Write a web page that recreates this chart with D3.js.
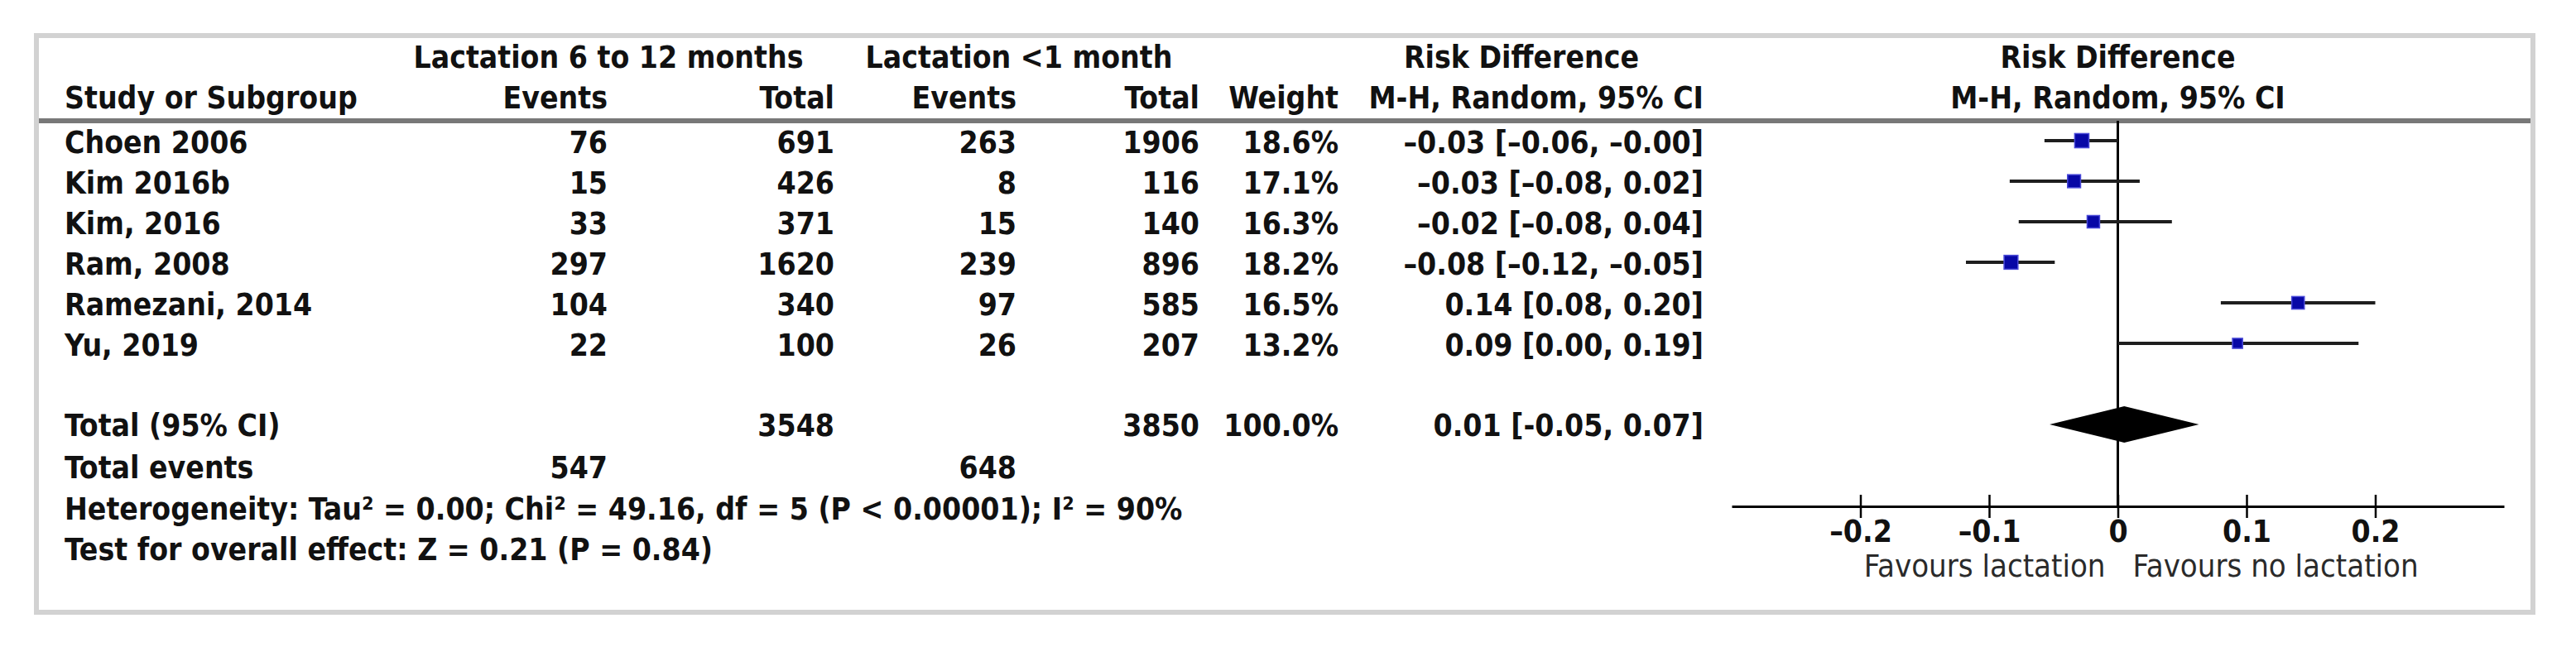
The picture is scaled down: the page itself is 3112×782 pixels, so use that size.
<!DOCTYPE html>
<html>
  <head>
    <meta charset="utf-8" />
    <script src="https://d3js.org/d3.v7.min.js"></script>
    <style>
      body {
        margin: 0px;
        background: #fff;
      }
      text {
        font-family: "DejaVu Sans Condensed", "DejaVu Sans", sans-serif;
        font-stretch: condensed;
        font-size: 37px;
        font-weight: bold;
        fill: #111;
      }
      .fav {
        font-weight: normal;
        font-size: 38px;
        fill: #2a2a2a;
      }
    </style>
  </head>
  <body>
    <svg width="3112" height="782"></svg>
    <script>
      // study rows
      const studies = ["Choen 2006", "Kim 2016b", "Kim, 2016", "Ram, 2008", "Ramezani, 2014", "Yu, 2019"];
      const events1 = [76, 15, 33, 297, 104, 22];
      const total1 = [691, 426, 371, 1620, 340, 100];
      const events2 = [263, 8, 15, 239, 97, 26];
      const total2 = [1906, 116, 140, 896, 585, 207];
      const weights = ["18.6%", "17.1%", "16.3%", "18.2%", "16.5%", "13.2%"];
      const ciLabels = [
        "–0.03 [–0.06, –0.00]",
        "–0.03 [–0.08, 0.02]",
        "–0.02 [–0.08, 0.04]",
        "–0.08 [–0.12, –0.05]",
        "0.14 [0.08, 0.20]",
        "0.09 [0.00, 0.19]"
      ];
      // values as drawn in the plot
      const est = [-0.028, -0.034, -0.019, -0.083, 0.14, 0.093];
      const lo = [-0.057, -0.084, -0.077, -0.118, 0.08, 0.0];
      const hi = [0.0, 0.017, 0.042, -0.049, 0.2, 0.187];
      const wt = [18.6, 17.1, 16.3, 18.2, 16.5, 13.2];

      // pooled
      const pooled = { est: 0.005, lo: -0.053, hi: 0.063 };
      const totalRow = ["Total (95% CI)", "", "3548", "", "3850", "100.0%", "0.01 [-0.05, 0.07]"];
      const eventsRow = ["Total events", "547", "", "648", "", "", ""];
      const footnotes = [
        "Heterogeneity: Tau² = 0.00; Chi² = 49.16, df = 5 (P < 0.00001); I² = 90%",
        "Test for overall effect: Z = 0.21 (P = 0.84)"
      ];
      const ticks = [-0.2, -0.1, 0, 0.1, 0.2];
      const tickLabels = ["–0.2", "–0.1", "0", "0.1", "0.2"];
      const favours = ["Favours lactation", "Favours no lactation"];

      const svg = d3.select("svg");

      // frame
      svg.append("rect")
        .attr("x", 44).attr("y", 43)
        .attr("width", 3016).attr("height", 697)
        .attr("fill", "#fff")
        .attr("stroke", "#d2d2d2")
        .attr("stroke-width", 6);

      // column right edges (name column is left aligned)
      const colX = [78, 734, 1008, 1228, 1449, 1617, 2058];
      const anchors = ["start", "end", "end", "end", "end", "end", "end"];

      const x = d3.scaleLinear().domain([-0.3, 0.3]).range([2092, 3025]);
      const y = d3.scaleLinear().domain([0, 1]).range([172, 221]);

      // header
      const h1 = [
        ["Lactation 6 to 12 months", 735],
        ["Lactation <1 month", 1231],
        ["Risk Difference", 1838],
        ["Risk Difference", x(0)]
      ];
      svg.selectAll(".h1").data(h1).enter().append("text")
        .attr("x", (d) => d[1]).attr("y", 82)
        .attr("text-anchor", "middle")
        .text((d) => d[0]);

      const h2 = ["Study or Subgroup", "Events", "Total", "Events", "Total", "Weight", "M-H, Random, 95% CI"];
      svg.selectAll(".h2").data(h2).enter().append("text")
        .attr("x", (d, i) => colX[i]).attr("y", 131)
        .attr("text-anchor", (d, i) => anchors[i])
        .text((d) => d);
      svg.append("text")
        .attr("x", x(0)).attr("y", 131)
        .attr("text-anchor", "middle")
        .text("M-H, Random, 95% CI");

      svg.append("line")
        .attr("x1", 47).attr("x2", 3057)
        .attr("y1", 146).attr("y2", 146)
        .attr("stroke", "#787878").attr("stroke-width", 6);

      // table rows
      const rows = studies.map((s, i) => [s, events1[i], total1[i], events2[i], total2[i], weights[i], ciLabels[i]]);
      rows.forEach((r, i) => {
        svg.selectAll(null).data(r).enter().append("text")
          .attr("x", (d, j) => colX[j])
          .attr("y", y(i))
          .attr("dy", "0.35em")
          .attr("text-anchor", (d, j) => anchors[j])
          .text((d) => d);
      });

      const extra = [[totalRow, 514], [eventsRow, 565]];
      extra.forEach(([r, yy]) => {
        svg.selectAll(null).data(r).enter().append("text")
          .attr("x", (d, j) => colX[j])
          .attr("y", yy)
          .attr("dy", "0.35em")
          .attr("text-anchor", (d, j) => anchors[j])
          .text((d) => d);
      });

      svg.selectAll(".foot").data(footnotes).enter().append("text")
        .attr("x", colX[0])
        .attr("y", (d, i) => 615 + i * 49)
        .attr("dy", "0.35em")
        .text((d) => d);

      // zero line
      svg.append("line")
        .attr("x1", x(0)).attr("x2", x(0))
        .attr("y1", 146).attr("y2", 612)
        .attr("stroke", "#000").attr("stroke-width", 3);

      // CI lines and squares
      const plot = svg.append("g");
      plot.selectAll(".ci").data(studies).enter().append("line")
        .attr("x1", (d, i) => x(lo[i]))
        .attr("x2", (d, i) => x(hi[i]))
        .attr("y1", (d, i) => y(i) - 2)
        .attr("y2", (d, i) => y(i) - 2)
        .attr("stroke", "#1e1e1e")
        .attr("stroke-width", 4);
      plot.selectAll(".sq").data(studies).enter().append("rect")
        .attr("x", (d, i) => x(est[i]) - wt[i] * 0.46)
        .attr("y", (d, i) => y(i) - 2 - wt[i] * 0.46)
        .attr("width", (d, i) => wt[i] * 0.92)
        .attr("height", (d, i) => wt[i] * 0.92)
        .attr("fill", "#0808a6")
        .attr("stroke", "#4a4ad8")
        .attr("stroke-width", 1.5);

      // diamond
      const dy0 = 513, dh = 22;
      plot.append("path")
        .attr("d", `M${x(pooled.lo)},${dy0} L${x(pooled.est)},${dy0 - dh} L${x(pooled.hi)},${dy0} L${x(pooled.est)},${dy0 + dh} Z`)
        .attr("fill", "#000");

      // axis
      const axisY = 612;
      const axis = d3.axisBottom(x).tickValues(ticks).tickSize(0).tickFormat((d, i) => tickLabels[i]);
      const ax = svg.append("g").attr("transform", `translate(0,${axisY})`).call(axis);
      ax.attr("font-family", null).attr("font-size", null);
      ax.select(".domain").attr("stroke", "#000").attr("stroke-width", 3);
      ax.selectAll(".tick line").attr("y1", -14).attr("y2", 14).attr("stroke", "#000").attr("stroke-width", 2.5);
      ax.selectAll(".tick text")
        .attr("y", 43).attr("dy", null)
        .attr("fill", "#111");

      svg.append("text").attr("class", "fav")
        .attr("x", x(0) - 15).attr("y", 697)
        .attr("text-anchor", "end")
        .text(favours[0]);
      svg.append("text").attr("class", "fav")
        .attr("x", x(0) + 18).attr("y", 697)
        .attr("text-anchor", "start")
        .text(favours[1]);
    </script>
  </body>
</html>
